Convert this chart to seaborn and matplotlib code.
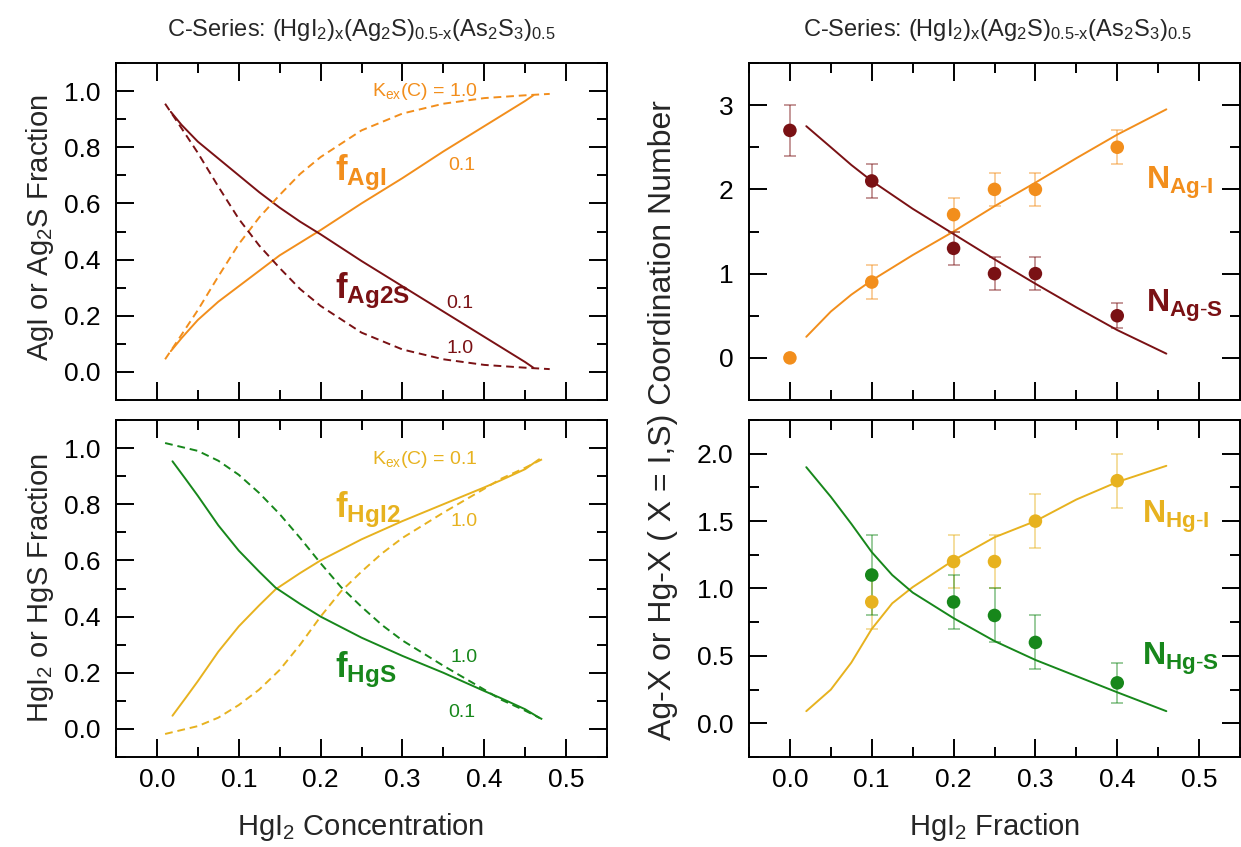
import numpy as np
import matplotlib
matplotlib.use("Agg")
import matplotlib.pyplot as plt
from matplotlib.ticker import MultipleLocator
import seaborn as sns

# Colours
ORANGE = "#F28E1C"
DARKRED = "#7A1114"
GOLD = "#E7B21F"
GREEN = "#17871B"

# ---- top-left: AgI / Ag2S fractions ----
agi_k01_x = [0.017, 0.03, 0.05, 0.075, 0.1, 0.125, 0.15, 0.175, 0.2, 0.25, 0.3, 0.35, 0.4, 0.45, 0.46]
agi_k01_y = [0.074, 0.12, 0.185, 0.25, 0.305, 0.36, 0.415, 0.46, 0.505, 0.60, 0.69, 0.785, 0.875, 0.965, 0.985]
ag2s_k01_x = [0.017, 0.03, 0.05, 0.075, 0.1, 0.125, 0.15, 0.175, 0.2, 0.25, 0.3, 0.35, 0.4, 0.45, 0.46]
ag2s_k01_y = [0.926, 0.88, 0.82, 0.76, 0.70, 0.64, 0.585, 0.535, 0.49, 0.395, 0.305, 0.215, 0.125, 0.035, 0.015]
agi_k1_x = [0.01, 0.025, 0.05, 0.075, 0.1, 0.125, 0.15, 0.175, 0.2, 0.25, 0.3, 0.35, 0.4, 0.45, 0.48]
agi_k1_y = [0.045, 0.11, 0.22, 0.34, 0.455, 0.55, 0.63, 0.705, 0.765, 0.86, 0.92, 0.955, 0.975, 0.985, 0.99]
ag2s_k1_x = [0.01, 0.025, 0.05, 0.075, 0.1, 0.125, 0.15, 0.175, 0.2, 0.25, 0.3, 0.35, 0.4, 0.45, 0.48]
ag2s_k1_y = [0.955, 0.89, 0.78, 0.66, 0.545, 0.45, 0.37, 0.295, 0.235, 0.14, 0.08, 0.045, 0.025, 0.015, 0.01]

# ---- bottom-left: HgI2 / HgS fractions ----
hgi2_k01_x = [0.019, 0.035, 0.05, 0.075, 0.1, 0.125, 0.145, 0.175, 0.2, 0.25, 0.3, 0.35, 0.4, 0.42, 0.45, 0.467]
hgi2_k01_y = [0.047, 0.11, 0.17, 0.275, 0.365, 0.44, 0.497, 0.555, 0.60, 0.675, 0.74, 0.80, 0.86, 0.885, 0.925, 0.96]
hgs_k01_x = [0.019, 0.035, 0.05, 0.075, 0.1, 0.125, 0.145, 0.175, 0.2, 0.25, 0.3, 0.35, 0.4, 0.42, 0.45, 0.467]
hgs_k01_y = [0.953, 0.89, 0.83, 0.725, 0.635, 0.56, 0.503, 0.445, 0.40, 0.325, 0.26, 0.20, 0.135, 0.11, 0.07, 0.04]
hgi2_k1_x = [0.01, 0.05, 0.075, 0.1, 0.125, 0.15, 0.175, 0.2, 0.225, 0.25, 0.275, 0.3, 0.35, 0.4, 0.42, 0.45, 0.474]
hgi2_k1_y = [-0.018, 0.01, 0.04, 0.085, 0.14, 0.21, 0.30, 0.40, 0.49, 0.56, 0.625, 0.68, 0.77, 0.855, 0.89, 0.93, 0.965]
hgs_k1_x = [0.01, 0.05, 0.075, 0.1, 0.125, 0.15, 0.175, 0.2, 0.225, 0.25, 0.275, 0.3, 0.35, 0.4, 0.42, 0.45, 0.474]
hgs_k1_y = [1.018, 0.99, 0.955, 0.905, 0.84, 0.765, 0.68, 0.59, 0.505, 0.435, 0.37, 0.315, 0.225, 0.14, 0.105, 0.065, 0.03]

# ---- top-right: Ag coordination numbers ----
cn_x = [0.0, 0.1, 0.2, 0.25, 0.3, 0.4]
n_agi = [0.0, 0.9, 1.7, 2.0, 2.0, 2.5]
n_agi_err = [0.0, 0.2, 0.2, 0.2, 0.2, 0.2]
n_ags = [2.7, 2.1, 1.3, 1.0, 1.0, 0.5]
n_ags_err = [0.3, 0.2, 0.2, 0.2, 0.2, 0.15]
ag_fit_x = [0.02, 0.05, 0.075, 0.1, 0.15, 0.2, 0.25, 0.3, 0.35, 0.4, 0.46]
ag_fit_agi = [0.25, 0.55, 0.75, 0.92, 1.22, 1.5, 1.8, 2.08, 2.37, 2.65, 2.95]
ag_fit_ags = [2.75, 2.5, 2.29, 2.1, 1.77, 1.47, 1.17, 0.88, 0.6, 0.33, 0.05]

# ---- bottom-right: Hg coordination numbers ----
hg_x = [0.1, 0.2, 0.25, 0.3, 0.4]
n_hgi = [0.9, 1.2, 1.2, 1.5, 1.8]
n_hgi_err = [0.2, 0.2, 0.2, 0.2, 0.2]
n_hgs = [1.1, 0.9, 0.8, 0.6, 0.3]
n_hgs_err = [0.3, 0.2, 0.2, 0.2, 0.15]
hg_fit_x = [0.02, 0.05, 0.075, 0.1, 0.125, 0.15, 0.2, 0.25, 0.3, 0.35, 0.4, 0.46]
hg_fit_hgi = [0.09, 0.25, 0.45, 0.70, 0.89, 1.01, 1.21, 1.38, 1.50, 1.66, 1.79, 1.91]
hg_fit_hgs = [1.9, 1.68, 1.48, 1.27, 1.10, 0.97, 0.78, 0.61, 0.47, 0.35, 0.23, 0.09]

sns.set_theme(style="ticks")
plt.rcParams["font.family"] = ["Liberation Sans", "DejaVu Sans"]
plt.rcParams["mathtext.fontset"] = "custom"
plt.rcParams["mathtext.rm"] = "Liberation Sans"
plt.rcParams["mathtext.it"] = "Liberation Sans:italic"
plt.rcParams["mathtext.bf"] = "Liberation Sans:bold"
plt.rcParams["mathtext.default"] = "regular"

fig = plt.figure(figsize=(12.41, 8.47), dpi=100)
W, H = 1241.0, 847.0


def px_axes(x0, x1, y0, y1):
    return fig.add_axes([x0 / W, 1 - y1 / H, (x1 - x0) / W, (y1 - y0) / H])


ax_tl = px_axes(116, 607, 63, 400)
ax_bl = px_axes(116, 607, 420, 757)
ax_tr = px_axes(749, 1240, 63, 400)
ax_br = px_axes(749, 1240, 420, 757)

DASH = (0, (4, 2.5))
LW = 1.4


def style(ax, ylim, ymajor, yminor, xlabels, yfmt):
    ax.set_xlim(-0.05, 0.55)
    ax.set_ylim(*ylim)
    ax.xaxis.set_major_locator(MultipleLocator(0.1))
    ax.xaxis.set_minor_locator(MultipleLocator(0.05))
    ax.yaxis.set_major_locator(MultipleLocator(ymajor))
    ax.yaxis.set_minor_locator(MultipleLocator(yminor))
    ax.yaxis.set_major_formatter(plt.FormatStrFormatter(yfmt))
    ax.xaxis.set_major_formatter(plt.FormatStrFormatter("%.1f"))
    ax.tick_params(which="both", direction="in", top=True, right=True,
                   width=1.4, colors="black", labelsize=19)
    ax.tick_params(which="major", length=13)
    ax.tick_params(which="minor", length=7)
    ax.tick_params(axis="x", pad=8, labelbottom=xlabels)
    ax.tick_params(axis="y", pad=11)
    for s in ax.spines.values():
        s.set_visible(True)
        s.set_linewidth(1.4)
        s.set_color("black")
    ax.set_xlabel("")
    ax.set_ylabel("")


# top-left
sns.lineplot(x=agi_k01_x, y=agi_k01_y, ax=ax_tl, color=ORANGE, lw=LW)
sns.lineplot(x=ag2s_k01_x, y=ag2s_k01_y, ax=ax_tl, color=DARKRED, lw=LW)
sns.lineplot(x=agi_k1_x, y=agi_k1_y, ax=ax_tl, color=ORANGE, lw=LW, linestyle=DASH)
sns.lineplot(x=ag2s_k1_x, y=ag2s_k1_y, ax=ax_tl, color=DARKRED, lw=LW, linestyle=DASH)
style(ax_tl, (-0.1, 1.1), 0.2, 0.1, False, "%.1f")
ax_tl.text(0.327, 1.0, r"K$_{ex}$(C) = 1.0", color=ORANGE, fontsize=14, ha="center", va="center")
ax_tl.text(0.373, 0.735, "0.1", color=ORANGE, fontsize=14, ha="center", va="center")
ax_tl.text(0.370, 0.245, "0.1", color=DARKRED, fontsize=14, ha="center", va="center")
ax_tl.text(0.370, 0.085, "1.0", color=DARKRED, fontsize=14, ha="center", va="center")
ax_tl.text(0.218, 0.71, r"$\mathbf{f}_{\mathbf{AgI}}$", color=ORANGE, fontsize=25, ha="left", va="center")
ax_tl.text(0.218, 0.29, r"$\mathbf{f}_{\mathbf{Ag2S}}$", color=DARKRED, fontsize=25, ha="left", va="center")

# bottom-left
sns.lineplot(x=hgi2_k01_x, y=hgi2_k01_y, ax=ax_bl, color=GOLD, lw=LW)
sns.lineplot(x=hgs_k01_x, y=hgs_k01_y, ax=ax_bl, color=GREEN, lw=LW)
sns.lineplot(x=hgi2_k1_x, y=hgi2_k1_y, ax=ax_bl, color=GOLD, lw=LW, linestyle=DASH)
sns.lineplot(x=hgs_k1_x, y=hgs_k1_y, ax=ax_bl, color=GREEN, lw=LW, linestyle=DASH)
style(ax_bl, (-0.1, 1.1), 0.2, 0.1, True, "%.1f")
ax_bl.text(0.327, 0.96, r"K$_{ex}$(C) = 0.1", color=GOLD, fontsize=14, ha="center", va="center")
ax_bl.text(0.375, 0.74, "1.0", color=GOLD, fontsize=14, ha="center", va="center")
ax_bl.text(0.375, 0.255, "1.0", color=GREEN, fontsize=14, ha="center", va="center")
ax_bl.text(0.373, 0.06, "0.1", color=GREEN, fontsize=14, ha="center", va="center")
ax_bl.text(0.218, 0.78, r"$\mathbf{f}_{\mathbf{HgI2}}$", color=GOLD, fontsize=25, ha="left", va="center")
ax_bl.text(0.218, 0.21, r"$\mathbf{f}_{\mathbf{HgS}}$", color=GREEN, fontsize=25, ha="left", va="center")

# top-right
sns.lineplot(x=ag_fit_x, y=ag_fit_agi, ax=ax_tr, color=ORANGE, lw=LW)
sns.lineplot(x=ag_fit_x, y=ag_fit_ags, ax=ax_tr, color=DARKRED, lw=LW)
ax_tr.errorbar(cn_x[1:], n_agi[1:], yerr=n_agi_err[1:], fmt="none", ecolor=ORANGE,
               alpha=0.55, elinewidth=1.1, capsize=4, capthick=1.1)
ax_tr.errorbar(cn_x, n_ags, yerr=n_ags_err, fmt="none", ecolor=DARKRED,
               alpha=0.55, elinewidth=1.1, capsize=4, capthick=1.1)
sns.scatterplot(x=cn_x, y=n_ags, ax=ax_tr, color=DARKRED, s=95, edgecolor="none", zorder=5)
sns.scatterplot(x=cn_x, y=n_agi, ax=ax_tr, color=ORANGE, s=95, edgecolor="none", zorder=5)
style(ax_tr, (-0.5, 3.5), 1, 0.5, False, "%d")
ax_tr.text(0.435, 2.08, r"$\mathbf{N}_{\mathbf{Ag\text{-}I}}$", color=ORANGE, fontsize=23, ha="left", va="center")
ax_tr.text(0.435, 0.62, r"$\mathbf{N}_{\mathbf{Ag\text{-}S}}$", color=DARKRED, fontsize=23, ha="left", va="center")

# bottom-right
sns.lineplot(x=hg_fit_x, y=hg_fit_hgi, ax=ax_br, color=GOLD, lw=LW)
sns.lineplot(x=hg_fit_x, y=hg_fit_hgs, ax=ax_br, color=GREEN, lw=LW)
ax_br.errorbar(hg_x, n_hgi, yerr=n_hgi_err, fmt="none", ecolor=GOLD,
               alpha=0.55, elinewidth=1.1, capsize=4, capthick=1.1)
ax_br.errorbar(hg_x, n_hgs, yerr=n_hgs_err, fmt="none", ecolor=GREEN,
               alpha=0.55, elinewidth=1.1, capsize=4, capthick=1.1)
sns.scatterplot(x=hg_x, y=n_hgi, ax=ax_br, color=GOLD, s=95, edgecolor="none", zorder=5)
sns.scatterplot(x=hg_x, y=n_hgs, ax=ax_br, color=GREEN, s=95, edgecolor="none", zorder=5)
style(ax_br, (-0.25, 2.25), 0.5, 0.25, True, "%.1f")
ax_br.text(0.43, 1.53, r"$\mathbf{N}_{\mathbf{Hg\text{-}I}}$", color=GOLD, fontsize=23, ha="left", va="center")
ax_br.text(0.43, 0.48, r"$\mathbf{N}_{\mathbf{Hg\text{-}S}}$", color=GREEN, fontsize=23, ha="left", va="center")

# titles and axis labels
title = r"C-Series: (HgI$_2$)$_x$(Ag$_2$S)$_{0.5\text{-}x}$(As$_2$S$_3$)$_{0.5}$"
fig.text(361 / W, 1 - 30 / H, title, fontsize=17, ha="center", va="center")
fig.text(997 / W, 1 - 30 / H, title, fontsize=17, ha="center", va="center")
fig.text(40 / W, 1 - 228 / H, r"AgI or Ag$_2$S Fraction", fontsize=21, rotation=90, ha="center", va="center")
fig.text(40 / W, 1 - 588 / H, r"HgI$_2$ or HgS Fraction", fontsize=21, rotation=90, ha="center", va="center")
fig.text(663 / W, 1 - 420 / H, "Ag-X or Hg-X ( X = I,S) Coordination Number", fontsize=23,
         rotation=90, ha="center", va="center")
fig.text(361 / W, 1 - 827 / H, r"HgI$_2$ Concentration", fontsize=21, ha="center", va="center")
fig.text(995 / W, 1 - 827 / H, r"HgI$_2$ Fraction", fontsize=21, ha="center", va="center")

fig.savefig("out.png", dpi=100, facecolor="white")
